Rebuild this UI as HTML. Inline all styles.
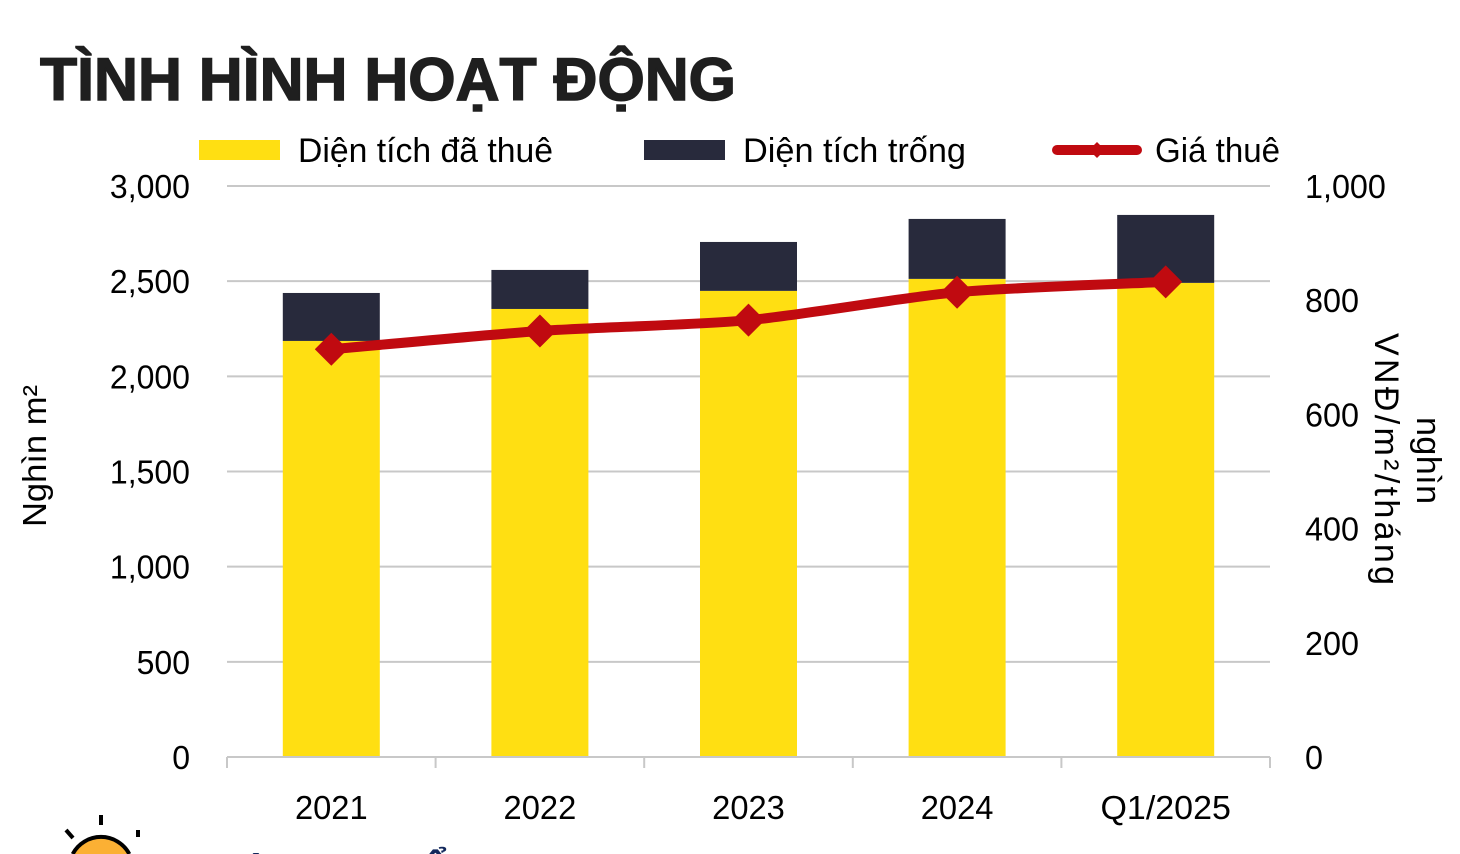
<!DOCTYPE html>
<html lang="vi">
<head>
<meta charset="utf-8">
<title>Tình hình hoạt động</title>
<style>
html,body{margin:0;padding:0;background:#fff;width:1460px;height:854px;overflow:hidden}
svg{display:block;font-family:"Liberation Sans","DejaVu Sans",sans-serif}
</style>
</head>
<body>
<svg id="chart" xmlns="http://www.w3.org/2000/svg" width="1460" height="854" viewBox="0 0 1460 854">
  <text x="40" y="100" font-size="60" font-weight="700" fill="#1f1f1f" stroke="#1f1f1f" stroke-width="1.4" textLength="696" lengthAdjust="spacingAndGlyphs">TÌNH HÌNH HOẠT ĐỘNG</text>

  <g id="grid"></g>
  <g id="bars"></g>
  <g id="xaxis"></g>
  <g id="yleft"></g>
  <g id="yright"></g>
  <g id="series"></g>

  <g>
    <g>
      <rect x="199" y="140" width="81" height="20" fill="#ffdf12"/>
      <text x="298" y="162" font-size="34" fill="#000" textLength="255" lengthAdjust="spacingAndGlyphs">Diện tích đã thuê</text>
    </g>
    <g>
      <rect x="644" y="140" width="81" height="20" fill="#282a3c"/>
      <text x="743" y="162" font-size="34" fill="#000" textLength="223" lengthAdjust="spacingAndGlyphs">Diện tích trống</text>
    </g>
    <g>
      <line x1="1057" y1="150" x2="1137" y2="150" stroke="#c00a10" stroke-width="10" stroke-linecap="round"/>
      <path d="M1097 142L1105 150L1097 158L1089 150Z" fill="#c00a10"/>
      <text x="1155" y="162" font-size="34" fill="#000" textLength="125" lengthAdjust="spacingAndGlyphs">Giá thuê</text>
    </g>
  </g>

  <text transform="translate(46 527) rotate(-90)" font-size="33" fill="#000" textLength="142" lengthAdjust="spacingAndGlyphs">Nghìn m²</text>
  <text transform="translate(1417 417) rotate(90)" font-size="34" fill="#000" textLength="87" lengthAdjust="spacing">nghìn</text>
  <text transform="translate(1375 333) rotate(90)" font-size="34" fill="#000" textLength="252" lengthAdjust="spacing">VNĐ/m²/tháng</text>

  <g>
    <path d="M72.7 854A32 32 0 0 1 129.3 854" fill="#fbb034" stroke="#000" stroke-width="4"/>
    <rect x="99" y="815" width="4" height="10" fill="#000"/>
    <rect x="136" y="830" width="4" height="7" fill="#000"/>
    <line x1="66" y1="830" x2="73" y2="838" stroke="#000" stroke-width="4"/>
  </g>
  <svg x="230" y="840" width="230" height="14" viewBox="230 840 230 14" overflow="hidden">
    <text x="240" y="892" font-size="44" font-weight="700" fill="#12285c">Â</text>
    <text x="423" y="882" font-size="44" font-weight="700" fill="#12285c">ẩ</text>
  </svg>
</svg>
<script>
const categories = ["2021", "2022", "2023", "2024", "Q1/2025"];
const leasedArea = [2186, 2354, 2449, 2512, 2491];
const vacantArea = [252, 205, 257, 315, 357];
const rentPrice = [714, 746, 765, 814, 832];
const leftTicks = [0, 500, 1000, 1500, 2000, 2500, 3000];
const rightTicks = [0, 200, 400, 600, 800, 1000];
const leftTickLabels = ["0", "500", "1,000", "1,500", "2,000", "2,500", "3,000"];
const rightTickLabels = ["0", "200", "400", "600", "800", "1,000"];

const NS = "http://www.w3.org/2000/svg";
const plot = {left: 227, right: 1270, top: 186, bottom: 757};
const leftMax = 3000, rightMax = 1000;
const yLeft = v => plot.bottom - (v / leftMax) * (plot.bottom - plot.top);
const yRight = v => plot.bottom - (v / rightMax) * (plot.bottom - plot.top);
const band = (plot.right - plot.left) / categories.length;
const xCenter = i => plot.left + band * (i + 0.5);
const barWidth = band * 0.465;

function el(parent, tag, attrs, text) {
  const n = document.createElementNS(NS, tag);
  for (const k in attrs) n.setAttribute(k, attrs[k]);
  if (text !== undefined) n.textContent = text;
  parent.appendChild(n);
  return n;
}
function squeeze(n, ratio) {
  const w = n.getComputedTextLength();
  n.setAttribute("textLength", (w * ratio).toFixed(1));
  n.setAttribute("lengthAdjust", "spacingAndGlyphs");
}

const grid = document.getElementById("grid");
const bars = document.getElementById("bars");
const xaxis = document.getElementById("xaxis");
const yleft = document.getElementById("yleft");
const yright = document.getElementById("yright");
const series = document.getElementById("series");

leftTicks.forEach((t, i) => {
  if (t !== 0) {
    const g = el(grid, "line", {x1: plot.left, x2: plot.right, y1: yLeft(t), y2: yLeft(t), stroke: "#c8c8c8", "stroke-width": 2});
    
    
  }
  const lab = el(yleft, "text", {x: 190, y: yLeft(t) + 12, "text-anchor": "end", "font-size": 33, fill: "#000"}, leftTickLabels[i]);
  
  
  squeeze(lab, 0.97);
});

rightTicks.forEach((t, i) => {
  const lab = el(yright, "text", {x: 1305, y: yRight(t) + 12, "text-anchor": "start", "font-size": 33, fill: "#000"}, rightTickLabels[i]);
  
  
  squeeze(lab, 0.98);
});

categories.forEach((c, i) => {
  const x = xCenter(i) - barWidth / 2;
  const leasedTop = yLeft(leasedArea[i]);
  const stackTop = yLeft(leasedArea[i] + vacantArea[i]);
  const leased = el(bars, "rect", {x: x, y: leasedTop, width: barWidth, height: plot.bottom - leasedTop, fill: "#ffdf12"});
  
  
  const vacant = el(bars, "rect", {x: x, y: stackTop, width: barWidth, height: leasedTop - stackTop, fill: "#282a3c"});
  
  
  const lab = el(xaxis, "text", {x: xCenter(i), y: 819, "text-anchor": "middle", "font-size": 33, fill: "#000"}, c);
  
  
  squeeze(lab, c.length > 4 ? 1.03 : 0.99);
});

const axisLine = el(xaxis, "line", {x1: plot.left, x2: plot.right, y1: plot.bottom, y2: plot.bottom, stroke: "#c8c8c8", "stroke-width": 2});


for (let i = 0; i <= categories.length; i++) {
  const x = plot.left + band * i;
  const tick = el(xaxis, "line", {x1: x, x2: x, y1: plot.bottom, y2: plot.bottom + 11, stroke: "#c8c8c8", "stroke-width": 2});
  
  
}

const pts = rentPrice.map((v, i) => [xCenter(i), yRight(v)]);
let d = "M" + pts[0][0] + " " + pts[0][1];
for (let i = 0; i < pts.length - 1; i++) {
  const p0 = pts[Math.max(0, i - 1)], p1 = pts[i], p2 = pts[i + 1], p3 = pts[Math.min(pts.length - 1, i + 2)];
  const k = 0.12;
  d += " C" + (p1[0] + (p2[0] - p0[0]) * k) + " " + (p1[1] + (p2[1] - p0[1]) * k) + " " +
       (p2[0] - (p3[0] - p1[0]) * k) + " " + (p2[1] - (p3[1] - p1[1]) * k) + " " + p2[0] + " " + p2[1];
}
const rentLine = el(series, "path", {d: d, fill: "none", stroke: "#c00a10", "stroke-width": 10, "stroke-linejoin": "round"});


pts.forEach(p => {
  const r = 16.5;
  const marker = el(series, "path", {d: `M${p[0]} ${p[1] - r}L${p[0] + r} ${p[1]}L${p[0]} ${p[1] + r}L${p[0] - r} ${p[1]}Z`, fill: "#c00a10"});
  
  
});
</script>
</body>
</html>
